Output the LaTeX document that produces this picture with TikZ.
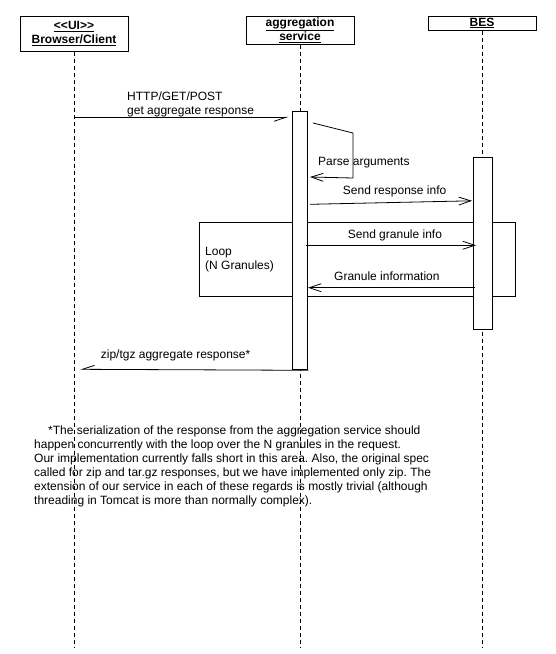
\documentclass[tikz,border=0pt]{standalone}
\usepackage{fontspec}
\setmainfont{Liberation Sans}
\usetikzlibrary{arrows.meta}
\frenchspacing
\tikzset{
  lifeline/.style={draw=black, line width=0.8pt, dash pattern=on 4pt off 3pt},
  headbox/.style={draw=black, line width=1pt, fill=white, inner sep=0pt, minimum width=108pt, align=center, font=\fontsize{12}{14}\selectfont\bfseries},
  actbox/.style={draw=black, line width=1pt, fill=white, inner sep=0pt, anchor=north west},
  loopbox/.style={draw=black, line width=1pt, inner sep=0pt, anchor=north west},
  msg/.style={draw=black, line width=0.8pt, -{Straight Barb[length=12pt,width=8pt]}},
  hmsg/.style={draw=black, line width=0.8pt, -{Straight Barb[length=12pt,width=8pt,harpoon,swap]}},
  lbl/.style={inner sep=0pt, anchor=base west, font=\fontsize{12}{14}\selectfont\frenchspacing},
}
\begin{document}
\begin{tikzpicture}[x=1pt, y=-1pt]
\useasboundingbox (0,0) rectangle (556,654);
% headers
\node[headbox, minimum height=35pt] (bc) at (74,33.5) {\underline{\textless{}\textless{}UI\textgreater{}\textgreater{}}\\\underline{Browser/Client}};
\node[headbox, minimum height=28pt] (ag) at (300,30) {\underline{aggregation}\\\underline{service}};
\node[headbox, minimum height=14pt] (bes) at (482,23) {\underline{BES}};
% lifelines
\coordinate (bcEnd) at (74,648);
\coordinate (agEnd) at (300,648);
\coordinate (besEnd) at (482,648);
\draw[lifeline] (bc.south) -- (bcEnd);
\draw[lifeline] (ag.south) -- (agEnd);
\draw[lifeline] (bes.south) -- (besEnd);
% loop fragment
\node[loopbox, minimum width=315.7pt, minimum height=73.7pt] (loop) at (199,222.3) {};
% activations
\node[actbox, minimum width=15.6pt, minimum height=258.6pt] (actA) at (291.7,110.7) {};
\node[actbox, minimum width=18.4pt, minimum height=172pt] (actB) at (473.3,157.3) {};
% message 1
\coordinate (m1s) at (74,117.3);
\coordinate (m1e) at (288.5,117.3);
\draw[hmsg] (m1s) -- (m1e);
\node[lbl] (t1a) at (127,100) {HTTP/GET/POST};
\node[lbl] (t1b) at (127,114) {get aggregate response};
% self message
\coordinate (s1) at (313,123);
\coordinate (s2) at (353,133);
\coordinate (s3) at (353,178);
\coordinate (s4) at (310,177);
\draw[msg] (s1) -- (s2) -- (s3) -- (s4);
\node[lbl] (t2) at (318,165) {Parse arguments};
% send response info
\coordinate (m3s) at (310,204.3);
\coordinate (m3e) at (472,200.8);
\draw[msg] (m3s) -- (m3e);
\node[lbl] (t3) at (342.7,194.3) {Send response info};
% send granule info
\coordinate (m4s) at (306,245.3);
\coordinate (m4e) at (476,245.3);
\draw[msg] (m4s) -- (m4e);
\node[lbl] (t4) at (347.7,238.3) {Send granule info};
% granule information
\coordinate (m5s) at (474.5,287.7);
\coordinate (m5e) at (308,287.7);
\draw[msg] (m5s) -- (m5e);
\node[lbl] (t5) at (334,280) {Granule information};
% loop label
\node[lbl] (l1) at (205,255.7) {Loop};
\node[lbl] (l2) at (205,269.7) {(N Granules)};
% return
\coordinate (m6e) at (80,369.3);
\draw[hmsg] (actA.south east) -- (m6e);
\node[lbl] (t6) at (100.7,358.3) {zip/tgz aggregate response*};
% footnote
\node[lbl] (f1) at (48,434.5) {*The serialization of the response from the aggregation service should};
\node[lbl] (f2) at (34,448.5) {happen concurrently with the loop over the N granules in the request.};
\node[lbl] (f3) at (34,462.5) {Our implementation currently falls short in this area. Also, the original spec};
\node[lbl] (f4) at (34,476.5) {called for zip and tar.gz responses, but we have implemented only zip. The};
\node[lbl] (f5) at (34,490.5) {extension of our service in each of these regards is mostly trivial (although};
\node[lbl] (f6) at (34,504.5) {threading in Tomcat is more than normally complex).};
\end{tikzpicture}
\end{document}
